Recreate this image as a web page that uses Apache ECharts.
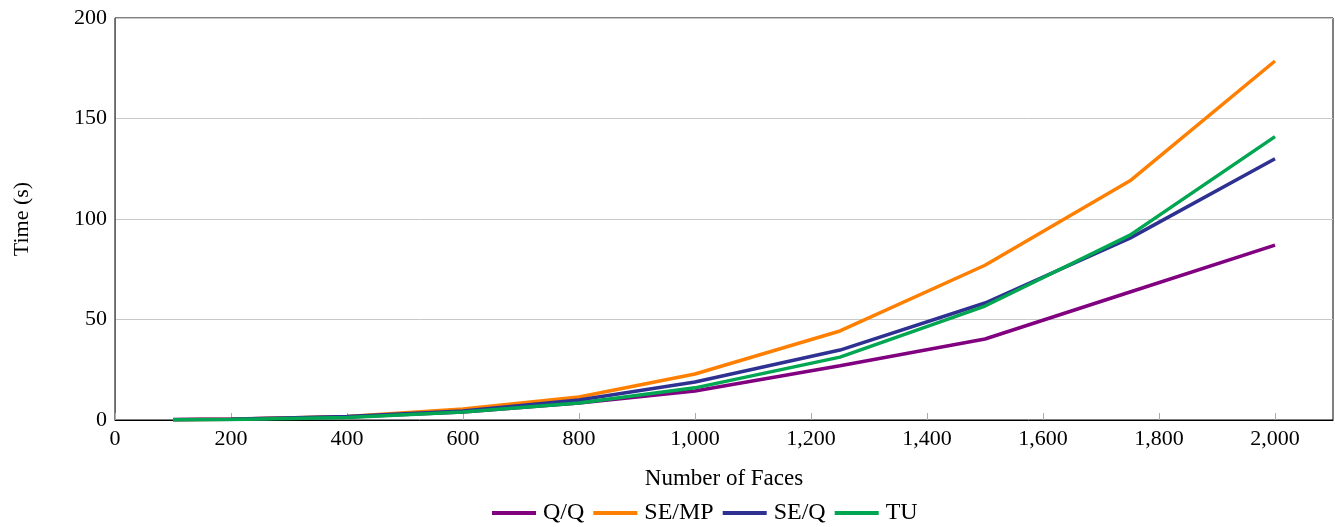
<!DOCTYPE html>
<html><head><meta charset="utf-8">
<script src="https://cdn.jsdelivr.net/npm/echarts@6/dist/echarts.min.js"></script>
<style>html,body{margin:0;padding:0;background:#fff}#c{width:1335px;height:527px}</style>
</head><body><div id="c"></div>
<script>
const faces = [100, 200, 400, 600, 800, 1000, 1250, 1500, 1750, 2000];
const qq   = [0.2, 0.5, 1.5, 4.0, 8.5, 14.4, 27.0, 40.3, 63.7, 87.0];
const semp = [0.1, 0.4, 1.8, 5.5, 11.4, 22.9, 44.3, 77.0, 119.0, 178.6];
const seq  = [0.1, 0.4, 1.7, 4.5, 10.0, 18.9, 34.8, 58.2, 90.5, 130.0];
const tu   = [0.1, 0.3, 1.3, 4.0, 8.5, 16.0, 31.3, 56.7, 92.0, 141.0];
const seriesNames = ['Q/Q', 'SE/MP', 'SE/Q', 'TU'];
const colors = ['#800080', '#ff7f00', '#2e3192', '#00a651'];
const values = [qq, semp, seq, tu];

const font = 'Liberation Serif';
const fs = 22;
const chart = echarts.init(document.getElementById('c'));
chart.setOption({
  animation: false,
  textStyle: {fontFamily: font},
  grid: {left: 115, right: 2, top: 18, bottom: 107, show: true, borderColor: '#000', borderWidth: 1},
  legend: {
    top: 501, left: 492, itemWidth: 44, itemHeight: 4, itemGap: 9,
    icon: 'rect', padding: 0,
    textStyle: {fontFamily: font, fontSize: 24, color: '#000', padding: [0, 0, 0, 2]},
    data: seriesNames
  },
  xAxis: {
    type: 'value', min: 0, max: 2100, interval: 200,
    name: 'Number of Faces', nameLocation: 'middle', nameGap: 47,
    nameTextStyle: {fontFamily: font, fontSize: 23, color: '#000'},
    axisLine: {lineStyle: {color: '#000'}},
    axisTick: {inside: true, length: 7, lineStyle: {color: '#aaa'}},
    splitLine: {show: false},
    axisLabel: {fontFamily: font, fontSize: fs, color: '#000', margin: 8, showMaxLabel: false,
      formatter: v => v.toLocaleString('en-US')}
  },
  yAxis: {
    type: 'value', min: 0, max: 200, interval: 50,
    name: 'Time (s)', nameLocation: 'middle', nameGap: 82,
    nameTextStyle: {fontFamily: font, fontSize: fs, color: '#000'},
    axisLine: {show: true, lineStyle: {color: '#666'}},
    axisTick: {show: false},
    splitLine: {lineStyle: {color: '#c8c8c8', width: 1}},
    axisLabel: {fontFamily: font, fontSize: fs, color: '#000', margin: 8}
  },
  series: seriesNames.map((n, i) => ({
    name: n, type: 'line', showSymbol: false, symbol: 'none',
    color: colors[i],
    lineStyle: {width: 3.5, color: colors[i]},
    data: faces.map((f, j) => [f, values[i][j]])
  }))
});
</script></body></html>
